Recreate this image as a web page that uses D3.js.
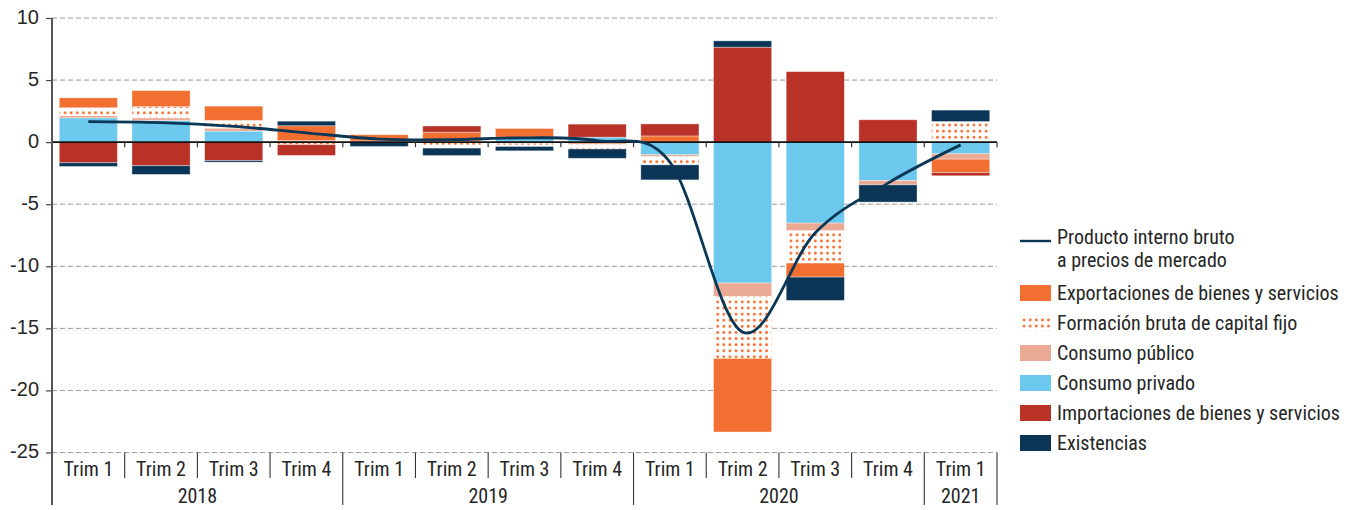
<!DOCTYPE html>
<html>
<head>
<meta charset="utf-8">
<script src="https://cdn.jsdelivr.net/npm/d3@7"></script>
<style>
  html, body { margin: 0; padding: 0; background: #fff; }
  svg { display: block; font-family: "Liberation Sans Narrow", "Roboto Condensed", "Arial Narrow", "Liberation Sans", sans-serif; }
</style>
</head>
<body>
<svg id="chart" width="1358" height="510"></svg>
<script>
// ---- Data ----
const quarters = ["Trim 1","Trim 2","Trim 3","Trim 4","Trim 1","Trim 2","Trim 3","Trim 4","Trim 1","Trim 2","Trim 3","Trim 4","Trim 1"];
const quarterYears = ["2018","2018","2018","2018","2019","2019","2019","2019","2020","2020","2020","2020","2021"];
const yTicks = [10, 5, 0, -5, -10, -15, -20, -25];

const consumoPrivado   = [1.96, 1.74, 0.89, 0.00, 0.00, 0.00, 0.40, 0.40, -1.02, -11.35, -6.52, -3.10, -0.94];
const consumoPublico   = [0.19, 0.21, 0.24, 0.13, 0.10, 0.10, -0.10, -0.20, -0.14, -1.08, -0.62, -0.34, -0.43];
const formacionBruta   = [0.62, 0.91, 0.62, -0.20, 0.00, -0.48, -0.25, -0.35, -0.67, -4.99, -2.60, 0.00, 1.66];
const exportaciones    = [0.80, 1.29, 1.15, 1.19, 0.50, 0.70, 0.70, 0.00, 0.50, -5.93, -1.13, 0.00, -1.08];
const importaciones    = [-1.66, -1.90, -1.48, -0.87, 0.00, 0.50, 0.00, 1.05, 0.97, 7.65, 5.68, 1.80, -0.26];
const existencias      = [-0.30, -0.70, -0.13, 0.37, -0.35, -0.60, -0.35, -0.75, -1.21, 0.51, -1.88, -1.39, 0.92];
const pib              = [1.65, 1.57, 1.27, 0.75, 0.25, 0.20, 0.35, 0.12, -1.60, -15.30, -7.30, -3.30, -0.22];

const seriesNames = [
  "Consumo privado", "Consumo público", "Formación bruta de capital fijo",
  "Exportaciones de bienes y servicios", "Importaciones de bienes y servicios", "Existencias"
];
const seriesValues = [consumoPrivado, consumoPublico, formacionBruta, exportaciones, importaciones, existencias];
const legendOrder = [
  "Exportaciones de bienes y servicios", "Formación bruta de capital fijo", "Consumo público",
  "Consumo privado", "Importaciones de bienes y servicios", "Existencias"
];
const lineName = ["Producto interno bruto", "a precios de mercado"];

// ---- Styles ----
const colors = {
  "Consumo privado": "#6DC8EE",
  "Consumo público": "#EAAA93",
  "Formación bruta de capital fijo": "url(#dots)",
  "Exportaciones de bienes y servicios": "#F26F32",
  "Importaciones de bienes y servicios": "#B83227",
  "Existencias": "#0A3556"
};
const orange = "#F26F32";
const lineColor = "#0B3757";
const textColor = "#262626";
const fontSize = 20;

// ---- Layout ----
const svg = d3.select("#chart");
const plotLeft = 52, plotRight = 997, plotTop = 18, plotBottom = 452.5;
const labelBottom = 505;

const keys = quarters.map((q, i) => i);
const table = keys.map(i => {
  const row = { idx: i };
  seriesNames.forEach((n, s) => row[n] = seriesValues[s][i]);
  return row;
});

const x = d3.scaleBand().domain(keys).range([plotLeft, plotRight]).paddingInner(0.2).paddingOuter(0.1);
const xb = d3.scaleBand().domain(keys).range([plotLeft, plotRight]).padding(0);
const y = d3.scaleLinear().domain([-25, 10]).range([plotBottom, plotTop]);

// pattern
const defs = svg.append("defs");
const pat = defs.append("pattern").attr("id", "dots").attr("patternUnits", "userSpaceOnUse")
  .attr("width", 6.1).attr("height", 6.1).attr("x", 1).attr("y", 0);
pat.append("rect").attr("width", 6.1).attr("height", 6.1).attr("fill", "#fff");
pat.append("circle").attr("cx", 3.05).attr("cy", 3.05).attr("r", 1.45).attr("fill", orange);

// gridlines
svg.append("g").selectAll("line").data(yTicks.filter(t => t !== 0)).join("line")
  .attr("x1", plotLeft).attr("x2", plotRight).attr("y1", d => y(d)).attr("y2", d => y(d))
  .attr("stroke", "#9a9a9a").attr("stroke-width", 1).attr("stroke-dasharray", "5,3");

// stacked bars
const stack = d3.stack().keys(seriesNames).offset(d3.stackOffsetDiverging);
const stacked = stack(table);
svg.append("g").selectAll("g").data(stacked).join("g")
  .attr("fill", d => colors[d.key])
  .selectAll("rect").data(d => d).join("rect")
  .attr("x", d => x(d.data.idx))
  .attr("width", x.bandwidth())
  .attr("y", d => y(Math.max(d[0], d[1])))
  .attr("height", d => Math.abs(y(d[0]) - y(d[1])))
  .attr("stroke", "#fff").attr("stroke-opacity", 0.45).attr("stroke-width", 0.8);

// zero axis
const zeroG = svg.append("g").attr("transform", `translate(0,${y(0)})`);
zeroG.append("line").attr("x1", plotLeft).attr("x2", plotRight).attr("stroke", "#111").attr("stroke-width", 1.6);
zeroG.selectAll("line.tk").data(keys.slice(1).concat([keys.length])).join("line").attr("class", "tk")
  .attr("x1", d => plotLeft + d * xb.bandwidth()).attr("x2", d => plotLeft + d * xb.bandwidth())
  .attr("y1", 0).attr("y2", 5).attr("stroke", "#333").attr("stroke-width", 1.2);

// y axis
const yAxis = d3.axisLeft(y).tickValues(yTicks).tickSize(6).tickFormat(d => String(d));
const yg = svg.append("g").attr("transform", `translate(${plotLeft},0)`).call(yAxis);
yg.select(".domain").remove();
yg.selectAll(".tick line").attr("stroke", "#444").attr("stroke-width", 1.2);
yg.selectAll(".tick text").attr("font-size", fontSize).attr("fill", textColor).attr("x", -13)
  .attr("dy", "0.25em").style("font-family", "inherit");
svg.append("line").attr("x1", plotLeft).attr("x2", plotLeft).attr("y1", plotTop).attr("y2", labelBottom)
  .attr("stroke", "#555").attr("stroke-width", 2);

// category labels
const cat = svg.append("g");
cat.selectAll("text.q").data(keys).join("text").attr("class", "q")
  .attr("x", d => xb(d) + xb.bandwidth() / 2).attr("y", 476)
  .attr("text-anchor", "middle").attr("font-size", fontSize).attr("fill", textColor)
  .text(d => quarters[d]);
keys.slice(1).forEach(i => {
  const isYear = quarterYears[i] !== quarterYears[i - 1];
  cat.append("line").attr("x1", xb(i)).attr("x2", xb(i))
    .attr("y1", plotBottom).attr("y2", isYear ? labelBottom : 478)
    .attr("stroke", "#333").attr("stroke-width", 1.1);
});
cat.append("line").attr("x1", plotRight).attr("x2", plotRight).attr("y1", plotBottom).attr("y2", labelBottom)
  .attr("stroke", "#333").attr("stroke-width", 1.1);
const years = Array.from(d3.group(keys, i => quarterYears[i]), ([yr, idxs]) => ({ yr, idxs }));
cat.selectAll("text.yr").data(years).join("text").attr("class", "yr")
  .attr("x", d => (xb(d.idxs[0]) + xb(d.idxs[d.idxs.length - 1]) + xb.bandwidth()) / 2)
  .attr("y", 503).attr("text-anchor", "middle").attr("font-size", fontSize).attr("fill", textColor)
  .text(d => d.yr);

// GDP line
const line = d3.line().x((d, i) => xb(i) + xb.bandwidth() / 2).y(d => y(d)).curve(d3.curveCardinal.tension(0));
svg.append("path").datum(pib).attr("d", line).attr("fill", "none")
  .attr("stroke", lineColor).attr("stroke-width", 2.8);

// legend
const lg = svg.append("g").attr("transform", "translate(1020,0)");
lg.append("line").attr("x1", 0).attr("x2", 31).attr("y1", 241).attr("y2", 241)
  .attr("stroke", lineColor).attr("stroke-width", 2.4);
lg.selectAll("text.ln").data(lineName).join("text").attr("class", "ln")
  .attr("x", 37).attr("y", (d, i) => 244 + i * 23).attr("font-size", fontSize).attr("fill", textColor).text(d => d);
const items = lg.selectAll("g.it").data(legendOrder).join("g").attr("class", "it")
  .attr("transform", (d, i) => `translate(0,${293 + i * 30})`);
items.append("rect").attr("x", 0).attr("y", -8).attr("width", 31).attr("height", 16)
  .attr("fill", d => colors[d]);
items.append("text").attr("x", 37).attr("y", 7).attr("font-size", fontSize).attr("fill", textColor).text(d => d);
</script>
</body>
</html>
